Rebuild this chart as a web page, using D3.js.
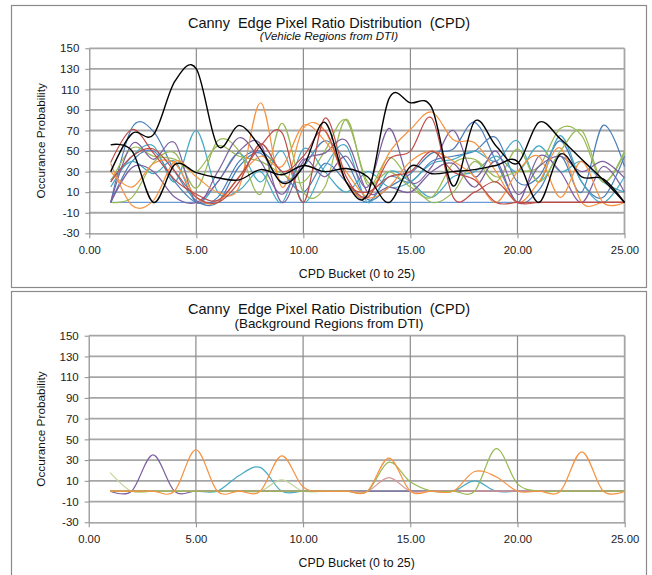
<!DOCTYPE html>
<html lang="en">
<head>
  <meta charset="UTF-8">
  <title>Canny Edge Pixel Ratio Distribution (CPD)</title>
  <script src="https://d3js.org/d3.v7.min.js"></script>
  <style>
    body { margin: 0; background: #fff; }
    svg { display: block; font-family: "Liberation Sans", Arial, sans-serif; }
    .axis path, .axis line { stroke: #8c8c8c; }
    .axis text { fill: #222; }
    .pre { white-space: pre; }
  </style>
</head>
<body>
  <div id="chart"></div>
  <script>
    // CPD buckets (x values of every series)
    const buckets = [1, 2, 3, 4, 5, 6, 7, 8, 9, 10, 11, 12, 13, 14, 15, 16, 17, 18, 19, 20, 21, 22, 23, 24, 25];
    const xTicks = [0, 5, 10, 15, 20, 25];
    const yTicks = [150, 130, 110, 90, 70, 50, 30, 10, -10, -30];

    // Vehicle regions (top chart)
    const vBlueFlat  = [0, 0, 0, 0, 0, 0, 0, 0, 0, 0, 0, 0, 0, 0, 0, 0, 0, 0, 0, 0, 0, 0, 0, 0, 0];
    const vBlueA     = [0, 73, 69, 30, 2, 0, 35, 48, 20, 35, 60, 40, 3, 15, 28, 48, 52, 78, 40, 0, 12, 45, 10, 75, 35];
    const vBlueB     = [0, 40, 50, 20, 0, 5, 40, 50, 30, 10, 38, 20, 0, 25, 20, 40, 45, 50, 63, 20, 25, 60, 20, 5, 45];
    const vRedA      = [39, 71, 48, 22, 8, 2, 25, 55, 68, 0, 82, 25, 5, 42, 50, 82, 5, 10, 20, 0, 0, 0, 0, 0, 0];
    const vRedB      = [20, 45, 52, 30, 5, 0, 20, 57, 30, 45, 70, 20, 10, 25, 30, 50, 30, 22, 0, 0, 0, 0, 0, 0, 0];
    const vGreenA    = [0, 5, 39, 48, 14, 60, 50, 8, 77, 10, 15, 81, 17, 44, 20, 0, 10, 40, 20, 52, 20, 50, 70, 20, 48];
    const vGreenB    = [20, 53, 45, 42, 30, 55, 45, 40, 28, 20, 50, 80, 20, 30, 15, 5, 38, 42, 25, 30, 35, 72, 65, 20, 50];
    const vPurpleA   = [0, 57, 42, 58, 0, 30, 63, 40, 8, 42, 25, 45, 15, 72, 20, 35, 70, 25, 50, 8, 35, 45, 30, 40, 24];
    const vPurpleB   = [0, 34, 30, 5, 0, 20, 50, 57, 0, 40, 48, 60, 10, 15, 10, 30, 38, 15, 40, 0, 45, 30, 0, 35, 10];
    const vTealA     = [15, 45, 55, 20, 70, 10, 12, 30, 0, 52, 30, 10, 30, 15, 20, 38, 42, 50, 40, 60, 20, 65, 20, 0, 25];
    const vTealB     = [22, 40, 28, 40, 0, 20, 48, 20, 50, 0, 35, 55, 0, 30, 20, 5, 25, 30, 45, 30, 55, 30, 40, 20, 10];
    const vOrangeA   = [38, -3, 2, 40, 25, 10, 15, 97, 15, 72, 70, 20, 5, 48, 71, 88, 61, 58, 30, 0, 20, 53, 0, 0, 0];
    const vOrangeB   = [30, 15, 38, 38, 5, 0, 25, 45, 35, 75, 60, 30, 5, 15, 40, 50, 40, 25, 0, 30, 45, 5, 40, 0, 0];
    const vBlackA    = [30, 67, 66, 118, 130, 55, 75, 53, 19, 35, 78, 20, 8, 101, 97, 92, 16, 79, 55, 38, 78, 62, 42, 22, 0];
    const vBlackB    = [56, 50, 0, 37, 29, 24, 22, 32, 27, 36, 30, 33, 25, 0, 35, 28, 30, 32, 36, 40, 0, 47, 25, 23, 0];

    // Background regions (bottom chart)
    const bBlueFlat  = [0, 0, 0, 0, 0, 0, 0, 0, 0, 0, 0, 0, 0, 0, 0, 0, 0, 0, 0, 0, 0, 0, 0, 0, 0];
    const bTeal      = [0, 0, 0, 0, 0, 0, 15, 23, 0, 0, 0, 0, 0, 0, 0, 0, 0, 10, 0, 0, 0, 0, 0, 0, 0];
    const bLightGreen= [18, 0, 0, 0, 0, 0, 0, 0, 11, 0, 0, 0, 0, 0, 0, 0, 0, 0, 0, 0, 0, 0, 0, 0, 0];
    const bPurple    = [0, 0, 35, 0, 0, 0, 0, 0, 0, 0, 0, 0, 0, 0, 0, 0, 0, 0, 0, 0, 0, 0, 0, 0, 0];
    const bPink      = [0, 0, 0, 0, 0, 0, 0, 0, 0, 0, 0, 0, 0, 13, 0, 0, 0, 0, 0, 0, 0, 0, 0, 0, 0];
    const bGreen     = [0, 0, 0, 0, 0, 0, 0, 0, 0, 0, 0, 0, 0, 28, 9, 0, 0, 0, 41, 7, 0, 0, 0, 0, 0];
    const bOrange    = [0, 0, 0, 0, 40, 0, 0, 0, 34, 4, 0, 0, 0, 32, 0, 0, 0, 19, 14, 0, 0, 0, 38, 0, 0];

    const vehicleSeries = [
      { values: vBlueFlat, color: "#6a9bd6", w: 1.3 },
      { values: vBlueA, color: "#4a7ebb", w: 1.2 },
      { values: vBlueB, color: "#4a7ebb", w: 1.2 },
      { values: vTealA, color: "#46aac5", w: 1.2 },
      { values: vTealB, color: "#46aac5", w: 1.2 },
      { values: vGreenA, color: "#98b954", w: 1.2 },
      { values: vGreenB, color: "#98b954", w: 1.2 },
      { values: vPurpleA, color: "#7d60a0", w: 1.2 },
      { values: vPurpleB, color: "#7d60a0", w: 1.2 },
      { values: vOrangeA, color: "#f69240", w: 1.2 },
      { values: vOrangeB, color: "#f69240", w: 1.2 },
      { values: vRedB, color: "#be4b48", w: 1.2 },
      { values: vRedA, color: "#be4b48", w: 1.2 },
      { values: vBlackB, color: "#000", w: 1.4 },
      { values: vBlackA, color: "#000", w: 1.4 }
    ];

    const backgroundSeries = [
      { values: bBlueFlat, color: "#4a7ebb", w: 1.2 },
      { values: bTeal, color: "#46aac5", w: 1.2 },
      { values: bLightGreen, color: "#c3d69b", w: 1.2 },
      { values: bPurple, color: "#7d60a0", w: 1.2 },
      { values: bPink, color: "#d99694", w: 1.2 },
      { values: bGreen, color: "#98b954", w: 1.2 },
      { values: bOrange, color: "#f69240", w: 1.2 }
    ];

    const width = 652;
    const height = 575;

    const svg = d3.select("#chart")
      .append("svg")
      .attr("width", width)
      .attr("height", height);

    svg.append("rect").attr("width", width).attr("height", height).attr("fill", "#fff");

    function drawPanel(cfg) {
      const g = svg.append("g");

      // outer chart border
      g.append("rect")
        .attr("x", 11.5).attr("y", cfg.top + 0.5)
        .attr("width", 635).attr("height", cfg.boxH)
        .attr("fill", "#fff")
        .attr("stroke", "#8a8a8a")
        .attr("stroke-width", 1.2);

      const x = d3.scaleLinear().domain([0, 25]).range([cfg.left, cfg.right]);
      const y = d3.scaleLinear().domain([-30, 150]).range([cfg.bottom, cfg.plotTop]);

      // horizontal gridlines
      g.selectAll(".hgrid")
        .data(yTicks.filter(d => d > -30))
        .enter()
        .append("line")
        .attr("x1", x(0)).attr("x2", x(25))
        .attr("y1", d => y(d)).attr("y2", d => y(d))
        .attr("stroke", "#a6a6a6")
        .attr("stroke-width", 1.8);

      // vertical gridlines
      g.selectAll(".vgrid")
        .data(xTicks.filter(d => d > 0))
        .enter()
        .append("line")
        .attr("x1", d => x(d)).attr("x2", d => x(d))
        .attr("y1", y(150)).attr("y2", y(-30))
        .attr("stroke", d => d === 25 ? "#a6a6a6" : "#8c8c8c")
        .attr("stroke-width", d => d === 25 ? 1.8 : 1.2);

      // axes
      g.append("g")
        .attr("class", "axis")
        .attr("transform", `translate(${x(0)},0)`)
        .call(d3.axisLeft(y).tickValues(yTicks).tickFormat(d => String(d)).tickSize(4).tickSizeOuter(0).tickPadding(6))
        .call(a => a.selectAll("text").attr("font-size", "11.5px"));

      g.append("g")
        .attr("class", "axis")
        .attr("transform", `translate(0,${y(-30)})`)
        .call(d3.axisBottom(x).tickValues(xTicks).tickFormat(d => d.toFixed(2)).tickSize(5).tickSizeOuter(0).tickPadding(8))
        .call(a => a.selectAll("text").attr("font-size", "11.3px"));

      g.selectAll(".axis path").attr("stroke-width", 1.2);

      // series
      const line = d3.line()
        .x((d, i) => x(buckets[i]))
        .y(d => y(d))
        .curve(d3.curveCardinal.tension(0));

      g.selectAll(".series")
        .data(cfg.series)
        .enter()
        .append("path")
        .attr("class", "series")
        .attr("d", d => line(d.values))
        .attr("fill", "none")
        .attr("stroke", d => d.color)
        .attr("stroke-width", d => d.w);

      // titles
      g.append("text")
        .attr("class", "pre")
        .attr("x", 329).attr("y", cfg.top + 22.5)
        .attr("text-anchor", "middle")
        .attr("font-size", "14.5px")
        .attr("fill", "#111")
        .text("Canny  Edge Pixel Ratio Distribution  (CPD)");

      g.append("text")
        .attr("x", 329).attr("y", cfg.top + cfg.subY)
        .attr("text-anchor", "middle")
        .attr("font-size", cfg.subSize)
        .attr("font-style", cfg.subItalic ? "italic" : "normal")
        .attr("fill", "#111")
        .text(cfg.subtitle);

      g.append("text")
        .attr("transform", `translate(45,${(cfg.plotTop + cfg.bottom) / 2}) rotate(-90)`)
        .attr("text-anchor", "middle")
        .attr("font-size", "11.8px")
        .attr("fill", "#111")
        .text("Occurance Probability");

      g.append("text")
        .attr("x", (cfg.left + cfg.right) / 2).attr("y", cfg.bottom + 45)
        .attr("text-anchor", "middle")
        .attr("font-size", "12.3px")
        .attr("fill", "#111")
        .text("CPD Bucket (0 to 25)");
    }

    drawPanel({
      top: 5, boxH: 282,
      left: 89.3, right: 624.5, plotTop: 48.3, bottom: 233.3,
      subtitle: "(Vehicle Regions from DTI)", subItalic: true, subY: 34.5, subSize: "11.5px",
      series: vehicleSeries
    });

    drawPanel({
      top: 291, boxH: 300,
      left: 88.7, right: 624.7, plotTop: 335.7, bottom: 522.3,
      subtitle: "(Background Regions from DTI)", subItalic: false, subY: 36.5, subSize: "13.4px",
      series: backgroundSeries
    });
  </script>
</body>
</html>
